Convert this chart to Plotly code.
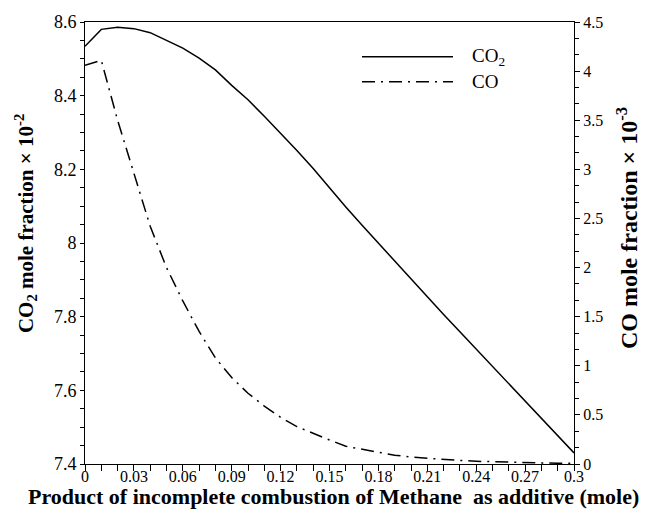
import plotly.graph_objects as go

# ---- data ----
x_mole = [0.00, 0.01, 0.02, 0.03, 0.04, 0.05, 0.06, 0.07, 0.08, 0.09, 0.10,
          0.11, 0.12, 0.13, 0.14, 0.15, 0.16, 0.17, 0.18, 0.19, 0.20,
          0.21, 0.22, 0.23, 0.24, 0.25, 0.26, 0.27, 0.28, 0.29, 0.30]
co2_frac = [8.534, 8.580, 8.586, 8.582, 8.571, 8.551, 8.529, 8.502, 8.470, 8.428, 8.389,
            8.344, 8.298, 8.251, 8.202, 8.149, 8.098, 8.048, 7.999, 7.950, 7.902,
            7.854, 7.806, 7.759, 7.712, 7.665, 7.618, 7.571, 7.524, 7.477, 7.430]
co_frac = [4.06, 4.11, 3.50, 2.95, 2.42, 2.00, 1.66, 1.35, 1.08, 0.88, 0.72,
           0.59, 0.475, 0.38, 0.31, 0.245, 0.18, 0.15, 0.12, 0.09, 0.07,
           0.057, 0.047, 0.036, 0.028, 0.022, 0.017, 0.013, 0.010, 0.008, 0.006]

x_ticks = [0, 0.03, 0.06, 0.09, 0.12, 0.15, 0.18, 0.21, 0.24, 0.27, 0.3]
x_ticklabels = ["0", "0.03", "0.06", "0.09", "0.12", "0.15", "0.18", "0.21", "0.24", "0.27", "0.3"]
y_ticks = [7.4, 7.6, 7.8, 8.0, 8.2, 8.4, 8.6]
y_ticklabels = ["7.4", "7.6", "7.8", "8", "8.2", "8.4", "8.6"]
y2_ticks = [0, 0.5, 1, 1.5, 2, 2.5, 3, 3.5, 4, 4.5]
y2_ticklabels = ["0", "0.5", "1", "1.5", "2", "2.5", "3", "3.5", "4", "4.5"]

series_names = ["CO<sub>2</sub>", "CO"]

SERIF = "Liberation Serif, Times New Roman, serif"
DASHDOT = "13px,6px,2px,6px"

fig = go.Figure()
fig.add_trace(go.Scatter(x=x_mole, y=co2_frac, mode="lines", name=series_names[0],
                         line=dict(color="black", width=1.5), yaxis="y", showlegend=False))
fig.add_trace(go.Scatter(x=x_mole, y=co_frac, mode="lines", name=series_names[1],
                         line=dict(color="black", width=1.5, dash=DASHDOT), yaxis="y2",
                         showlegend=False))

W, H = 665, 514
L, R, T, B = 85, 91, 20, 50
pw, ph = W - L - R, H - T - B

def px2paper(px, py):
    return (px - L) / pw, (H - B - py) / ph

fig.update_layout(
    width=W, height=H,
    margin=dict(l=L, r=R, t=T, b=B, pad=0),
    paper_bgcolor="white", plot_bgcolor="white",
    font=dict(family=SERIF, color="black", size=16),
    showlegend=False,
    xaxis=dict(range=[0, 0.3], tickvals=x_ticks, ticktext=x_ticklabels,
               showgrid=False, zeroline=False, showline=True, linecolor="black", linewidth=1,
               mirror=True, ticks="outside", ticklen=6, tickwidth=1, tickcolor="black",
               ticklabelstandoff=-8,
               tickfont=dict(family=SERIF, size=16, color="black"),
               minor=dict(dtick=0.01, tick0=0, ticks="outside", ticklen=6, tickcolor="black",
                          showgrid=False)),
    yaxis=dict(range=[7.4, 8.6], tickvals=y_ticks, ticktext=y_ticklabels,
               showgrid=False, zeroline=False, showline=True, linecolor="black", linewidth=1,
               ticks="outside", ticklen=4, tickwidth=1, tickcolor="black",
               tickfont=dict(family=SERIF, size=18, color="black"),
               minor=dict(dtick=0.05, tick0=7.4, ticks="outside", ticklen=4, tickcolor="black",
                          showgrid=False)),
    yaxis2=dict(range=[0, 4.5], tickvals=y2_ticks, ticktext=y2_ticklabels,
                overlaying="y", side="right",
                showgrid=False, zeroline=False, showline=True, linecolor="black", linewidth=1,
                ticks="outside", ticklen=5, tickwidth=1, tickcolor="black",
                tickfont=dict(family=SERIF, size=16, color="black"),
                minor=dict(dtick=0.5 / 3, tick0=0, ticks="outside", ticklen=4, tickcolor="black",
                           showgrid=False)),
)

# axis titles
ax, ay = px2paper(25, 223)
fig.add_annotation(x=ax, y=ay, xref="paper", yref="paper", showarrow=False,
                   text="<b>CO<sub>2</sub> mole fraction × 10<sup>-2</sup></b>",
                   textangle=-90, xanchor="center", yanchor="middle",
                   font=dict(family=SERIF, size=21))
ax, ay = px2paper(627, 227)
fig.add_annotation(x=ax, y=ay, xref="paper", yref="paper", showarrow=False,
                   text="<b>CO mole fraction × 10<sup>-3</sup></b>",
                   textangle=-90, xanchor="center", yanchor="middle",
                   font=dict(family=SERIF, size=24))
ax, ay = px2paper(333, 497)
fig.add_annotation(x=ax, y=ay, xref="paper", yref="paper", showarrow=False,
                   text="<b>Product of incomplete combustion of Methane\u00a0 as additive (mole)</b>",
                   xanchor="center", yanchor="middle",
                   font=dict(family=SERIF, size=22))

# legend (drawn manually)
for name, dash, py in [(series_names[0], "solid", 55), (series_names[1], DASHDOT, 80)]:
    x0, y0 = px2paper(362, py)
    x1, _ = px2paper(453, py)
    fig.add_shape(type="line", xref="paper", yref="paper", x0=x0, x1=x1, y0=y0, y1=y0,
                  line=dict(color="black", width=1.5, dash=dash))
    tx, _ = px2paper(470, py)
    fig.add_annotation(x=tx, y=y0, xref="paper", yref="paper", showarrow=False,
                       text=name, xanchor="left", yanchor="middle",
                       font=dict(family=SERIF, size=19))

fig.write_html("out.html")
